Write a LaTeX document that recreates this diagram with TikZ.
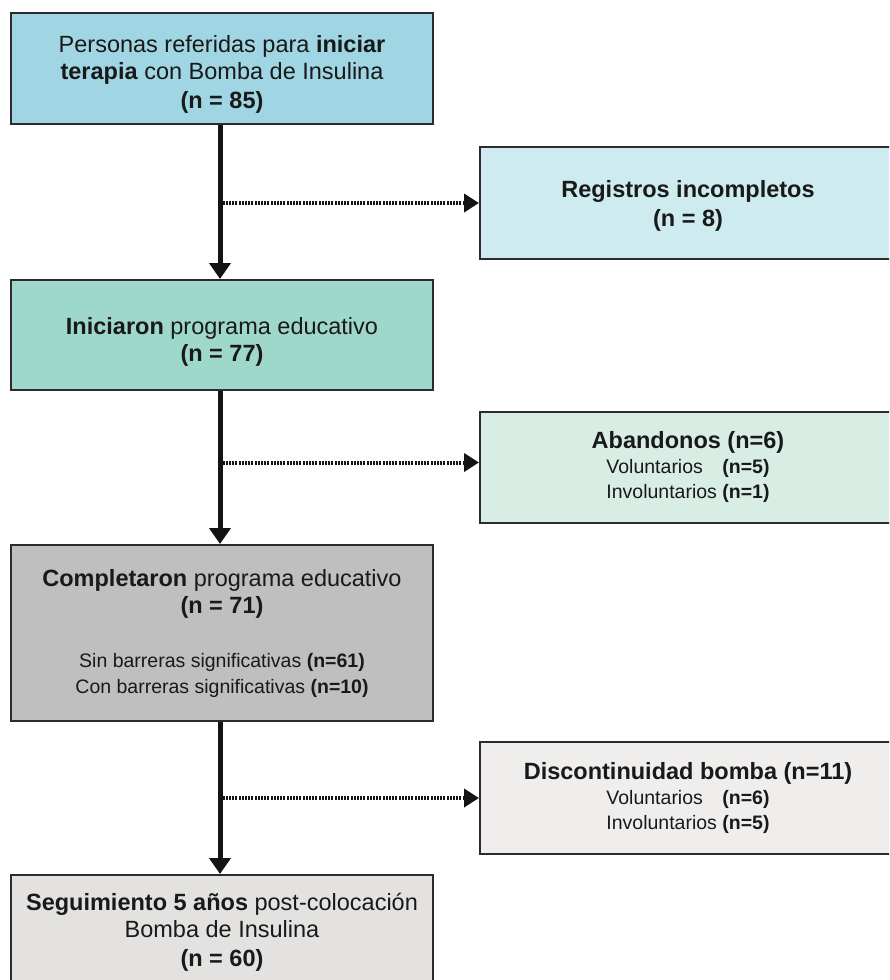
\documentclass[tikz,border=0pt]{standalone}
\usepackage{fontspec}
\setmainfont{Liberation Sans}
\usetikzlibrary{arrows.meta,calc}
\definecolor{bA}{HTML}{A0D6E3}
\definecolor{bB}{HTML}{CEEBF0}
\definecolor{bC}{HTML}{9ED8CB}
\definecolor{bD}{HTML}{D8EEE5}
\definecolor{bE}{HTML}{BFBFBF}
\definecolor{bF}{HTML}{EFEEED}
\definecolor{bG}{HTML}{E3E2E0}
\definecolor{edge}{HTML}{2E2A30}
\newcommand{\sm}{\fontsize{19.5}{25}\selectfont}
\newcommand{\topstrut}[1]{\rule{0pt}{#1}}
\tikzset{
  box/.style={draw=edge, line width=2pt, anchor=north west, inner sep=0pt,
    align=center, text=black!90, font=\fontsize{23.5}{27}\selectfont},
  flow/.style={line width=5pt, draw=black!92, -{Triangle[length=16pt,width=21pt]}},
  side/.style={line width=4pt, draw=black!92, dash pattern=on 2pt off 1.2pt,
    -{Triangle[length=15pt,width=18pt]}}
}
\begin{document}
\begin{tikzpicture}[x=1pt,y=-1pt]
\useasboundingbox (0,0) rectangle (889,980);
\clip (0,0) rectangle (889,980);
\node[box, fill=bA, minimum width=422pt, minimum height=111pt] (a) at (10,12)
  {\topstrut{28pt}Personas referidas para \textbf{iniciar}\\ \textbf{terapia} con Bomba de Insulina\\[2pt] \textbf{(n = 85)}};
\node[box, fill=bB, minimum width=416pt, minimum height=112pt] (r1) at (479,146)
  {\topstrut{23pt}\textbf{Registros incompletos}\\[2pt] \textbf{(n = 8)}};
\node[box, fill=bC, minimum width=422pt, minimum height=110pt] (b) at (10,279)
  {\topstrut{31pt}\textbf{Iniciaron} programa educativo\\ \textbf{(n = 77)}};
\node[box, fill=bD, minimum width=416pt, minimum height=111pt] (r2) at (479,411)
  {\textbf{Abandonos (n=6)}\\[-2pt]
   {\sm Voluntarios\quad\textbf{(n=5)}}\\[-2pt]
   {\sm Involuntarios \textbf{(n=1)}}};
\node[box, fill=bE, minimum width=422pt, minimum height=176pt] (c) at (10,544)
  {\textbf{Completaron} programa educativo\\ \textbf{(n = 71)}\\[28pt]
   {\sm Sin barreras significativas \textbf{(n=61)}}\\[-2pt]
   {\sm Con barreras significativas \textbf{(n=10)}}};
\node[box, fill=bF, minimum width=416pt, minimum height=112pt] (r3) at (479,741)
  {\textbf{Discontinuidad bomba (n=11)}\\[-2pt]
   {\sm Voluntarios\quad\textbf{(n=6)}}\\[-2pt]
   {\sm Involuntarios \textbf{(n=5)}}};
\node[box, fill=bG, minimum width=422pt, minimum height=115pt] (d) at (10,874)
  {\textbf{Seguimiento 5 años} post-colocación\\ Bomba de Insulina\\[2pt] \textbf{(n = 60)}};
\coordinate (xa) at (220,0);
\draw[flow] (a.south -| xa) -- (b.north -| xa);
\draw[flow] (b.south -| xa) -- (c.north -| xa);
\draw[flow] (c.south -| xa) -- (d.north -| xa);
\coordinate (s1) at ($(r1.west -| xa)+(2.5,0)$);
\coordinate (s2) at ($(r2.west -| xa)+(2.5,-5)$);
\coordinate (s3) at ($(r3.west -| xa)+(2.5,0)$);
\draw[side] (s1) -- (r1.west);
\draw[side] (s2) -- (s2 -| r2.west);
\draw[side] (s3) -- (r3.west);
\end{tikzpicture}
\end{document}
